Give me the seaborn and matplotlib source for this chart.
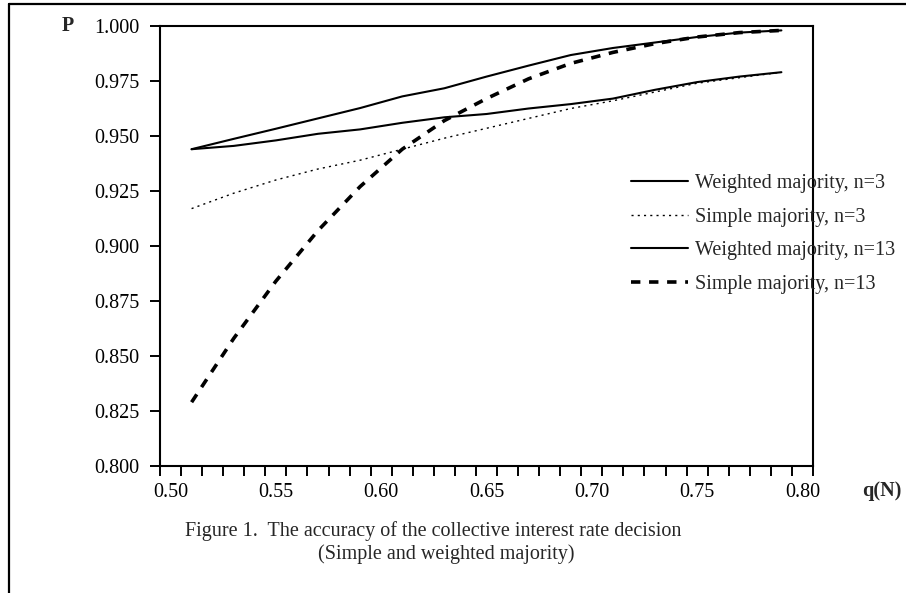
import matplotlib
matplotlib.use("Agg")
import matplotlib.pyplot as plt
from matplotlib.lines import Line2D
import seaborn as sns
import pandas as pd

q = [0.51, 0.53, 0.55, 0.57, 0.59, 0.61, 0.63, 0.65, 0.67, 0.69, 0.71, 0.73, 0.75, 0.77, 0.79]
weighted_n3 = [0.944, 0.9455, 0.948, 0.951, 0.953, 0.956, 0.9585, 0.960, 0.9625, 0.9645, 0.967, 0.971, 0.9745, 0.977, 0.979]
simple_n3 = [0.917, 0.924, 0.930, 0.935, 0.939, 0.944, 0.949, 0.9535, 0.958, 0.9625, 0.966, 0.970, 0.974, 0.9765, 0.979]
weighted_n13 = [0.944, 0.9487, 0.9533, 0.958, 0.9627, 0.968, 0.9717, 0.977, 0.982, 0.9868, 0.990, 0.9925, 0.995, 0.997, 0.998]
simple_n13 = [0.829, 0.858, 0.884, 0.907, 0.927, 0.944, 0.957, 0.967, 0.976, 0.983, 0.988, 0.992, 0.995, 0.997, 0.998]

labels = ["Weighted majority, n=3", "Simple majority, n=3",
          "Weighted majority, n=13", "Simple majority, n=13"]
x_tick_labels = ["0.50", "0.55", "0.60", "0.65", "0.70", "0.75", "0.80"]
y_tick_labels = ["0.800", "0.825", "0.850", "0.875", "0.900", "0.925", "0.950", "0.975", "1.000"]

sns.set_theme(style="white")
plt.rcParams["font.family"] = ["Liberation Serif", "DejaVu Serif"]
FS = 14.5

fig = plt.figure(figsize=(9.06, 5.93), dpi=100)
ax = fig.add_axes([160 / 906, 1 - 466 / 593, (813 - 160) / 906, (466 - 26) / 593])

series = [weighted_n3, simple_n3, weighted_n13, simple_n13]
styles = [
    dict(linestyle="-", linewidth=1.5),
    dict(linestyle=(0, (1.5, 3)), linewidth=1.0),
    dict(linestyle="-", linewidth=1.5),
    dict(linestyle=(0, (2.6, 2.4)), linewidth=2.6),
]
for vals, lab, st in zip(series, labels, styles):
    df = pd.DataFrame({"q": q, "P": vals})
    sns.lineplot(data=df, x="q", y="P", ax=ax, color="black", label=lab, **st)

ax.set_xlim(0.495, 0.805)
ax.set_ylim(0.800, 1.000)
ax.set_xticks([float(t) for t in x_tick_labels])
ax.set_xticklabels(x_tick_labels, fontsize=FS)
ax.set_xticks([0.495 + 0.01 * k for k in range(32)], minor=True)
ax.set_yticks([float(t) for t in y_tick_labels])
ax.set_yticklabels(y_tick_labels, fontsize=FS)
ax.tick_params(axis="x", which="major", length=0, pad=12, colors="black")
ax.tick_params(axis="x", which="minor", length=7, width=1.4, direction="out", bottom=True, color="black")
ax.tick_params(axis="y", which="major", length=7, width=1.4, direction="out", left=True, pad=8, colors="black")
ax.set_xlabel("")
ax.set_ylabel("")
for sp in ax.spines.values():
    sp.set_color("black")
    sp.set_linewidth(1.5)
ax.grid(False)

ax.legend(loc="center left", bbox_to_anchor=(631 / 906, 1 - 234 / 593),
          bbox_transform=fig.transFigure, frameon=False, fontsize=FS,
          handlelength=2.85, handletextpad=0.35, labelspacing=0.72,
          borderpad=0, borderaxespad=0)

fig.text(68 / 906, 1 - 26 / 593, "P", fontsize=FS, fontweight="bold", ha="center", va="center")
fig.text(862 / 906, 1 - 491 / 593, "q(N)", fontsize=FS, fontweight="bold", ha="left", va="center")
fig.text(185 / 906, 1 - 531 / 593, "Figure 1.  The accuracy of the collective interest rate decision",
         fontsize=FS, ha="left", va="center")
fig.text(318 / 906, 1 - 554 / 593, "(Simple and weighted majority)", fontsize=FS, ha="left", va="center")

fig.add_artist(Line2D([9 / 906, 9 / 906], [0, 1 - 4 / 593], transform=fig.transFigure, color="black", linewidth=1.6))
fig.add_artist(Line2D([9 / 906, 1], [1 - 4 / 593, 1 - 4 / 593], transform=fig.transFigure, color="black", linewidth=1.6))

fig.savefig("out.png", dpi=100, facecolor="white")
